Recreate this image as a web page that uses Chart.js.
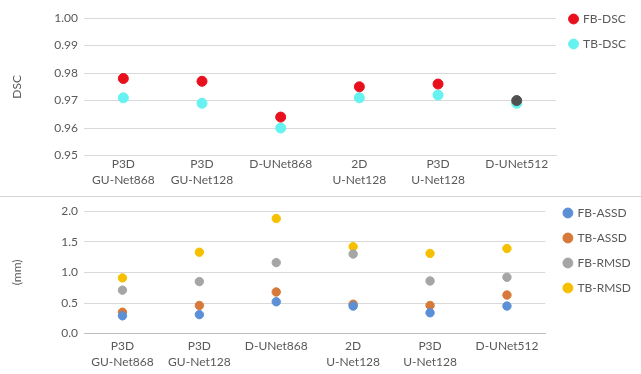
<!DOCTYPE html>
<html>
<head>
<meta charset="utf-8">
<script src="https://cdn.jsdelivr.net/npm/chart.js@4"></script>
<style>
  body { margin: 0; background: #fff; }
  #wrap { position: relative; width: 641px; height: 374px; }
  #top { position: absolute; left: 0; top: 0; }
  #bottom { position: absolute; left: 0; top: 198px; }
  #sep { position: absolute; left: 0; top: 196px; width: 641px; height: 1px; background: #d4d4d4; }
</style>
</head>
<body>
<div id="wrap">
  <canvas id="top" width="641" height="196"></canvas>
  <div id="sep"></div>
  <canvas id="bottom" width="641" height="176"></canvas>
</div>
<script>
// categories shared by both panels
const models = [
  ["P3D", "GU-Net868"],
  ["P3D", "GU-Net128"],
  "D-UNet868",
  ["2D", "U-Net128"],
  ["P3D", "U-Net128"],
  "D-UNet512"
];

// top panel (DSC)
const fbDsc = [0.978, 0.977, 0.964, 0.975, 0.976, 0.970];
const tbDsc = [0.971, 0.969, 0.960, 0.971, 0.972, 0.969];

// bottom panel (mm)
const fbAssd = [0.29, 0.31, 0.52, 0.45, 0.34, 0.45];
const tbAssd = [0.35, 0.46, 0.68, 0.48, 0.46, 0.63];
const fbRmsd = [0.71, 0.85, 1.16, 1.30, 0.86, 0.92];
const tbRmsd = [0.91, 1.33, 1.88, 1.42, 1.31, 1.39];

Chart.defaults.font.family = "Lato";
Chart.defaults.font.size = 12;
Chart.defaults.color = "#595959";

const grid = "#d9d9d9";

// nudge the legend so it lines up with the top gridline
const legendShift = {
  id: "legendShift",
  afterLayout(chart, args, opts) {
    const lg = chart.legend;
    if (!lg) return;
    lg.top += opts.dy || 0;
    lg.bottom += opts.dy || 0;
    lg.left += opts.dx || 0;
    lg.right += opts.dx || 0;
  }
};

const dots = (label, data, color, r) => ({
  label: label,
  data: data,
  showLine: false,
  backgroundColor: color,
  borderColor: color,
  pointBackgroundColor: color,
  pointBorderColor: color,
  pointRadius: r,
  pointHoverRadius: r
});

const legendOpts = {
  position: "right",
  align: "start",
  labels: {
    usePointStyle: true,
    pointStyle: "circle",
    boxWidth: 7,
    boxHeight: 7,
    padding: 13,
    color: "#595959",
    font: { size: 12 }
  }
};

const xAxis = (borderColor, pad) => ({
  offset: true,
  grid: { display: false, drawTicks: false, offset: true },
  border: { color: borderColor },
  ticks: { padding: pad, maxRotation: 0, autoSkip: false, font: { size: 12, lineHeight: 1.35 } }
});

// top chart
const fbColors = ["#e8101c", "#e8101c", "#e8101c", "#e8101c", "#e8101c", "#505050"];
const topSet1 = dots("FB-DSC", fbDsc, "#e8101c", 5);
topSet1.pointBackgroundColor = fbColors;
topSet1.pointBorderColor = fbColors;

new Chart(document.getElementById("top"), {
  type: "line",
  data: {
    labels: models,
    datasets: [topSet1, dots("TB-DSC", tbDsc, "#66f2f0", 5)]
  },
  plugins: [legendShift],
  options: {
    responsive: false,
    animation: false,
    layout: { padding: { left: 6, right: 6, top: 18, bottom: 8 } },
    plugins: {
      legend: legendOpts,
      legendShift: { dy: -18, dx: 1 },
      tooltip: { enabled: false }
    },
    scales: {
      x: xAxis(grid, 0),
      y: {
        min: 0.95,
        max: 1.0,
        ticks: { stepSize: 0.01, padding: 6, callback: v => v.toFixed(2) },
        grid: { color: grid, drawTicks: false },
        border: { display: false },
        title: { display: true, text: "DSC", color: "#595959", font: { size: 12 } },
        afterFit: s => { s.width = 78; }
      }
    }
  }
});

// bottom chart
new Chart(document.getElementById("bottom"), {
  type: "line",
  data: {
    labels: models,
    datasets: [
      dots("FB-ASSD", fbAssd, "#5b8fd6", 4.2),
      dots("TB-ASSD", tbAssd, "#d7793a", 4.2),
      dots("FB-RMSD", fbRmsd, "#a5a5a5", 4.2),
      dots("TB-RMSD", tbRmsd, "#f5c000", 4.2)
    ]
  },
  plugins: [legendShift],
  options: {
    responsive: false,
    animation: false,
    layout: { padding: { left: 6, right: 6, top: 13, bottom: 0 } },
    plugins: {
      legend: legendOpts,
      legendShift: { dy: -17, dx: 6 },
      tooltip: { enabled: false }
    },
    scales: {
      x: xAxis("#bfbfbf", 4),
      y: {
        min: 0,
        max: 2.0,
        ticks: { stepSize: 0.5, padding: 6, callback: v => v.toFixed(1) },
        grid: { color: grid, drawTicks: false },
        border: { display: false },
        title: { display: true, text: "(mm)", color: "#595959", font: { size: 12 } },
        afterFit: s => { s.width = 78; }
      }
    }
  }
});
</script>
</body>
</html>
